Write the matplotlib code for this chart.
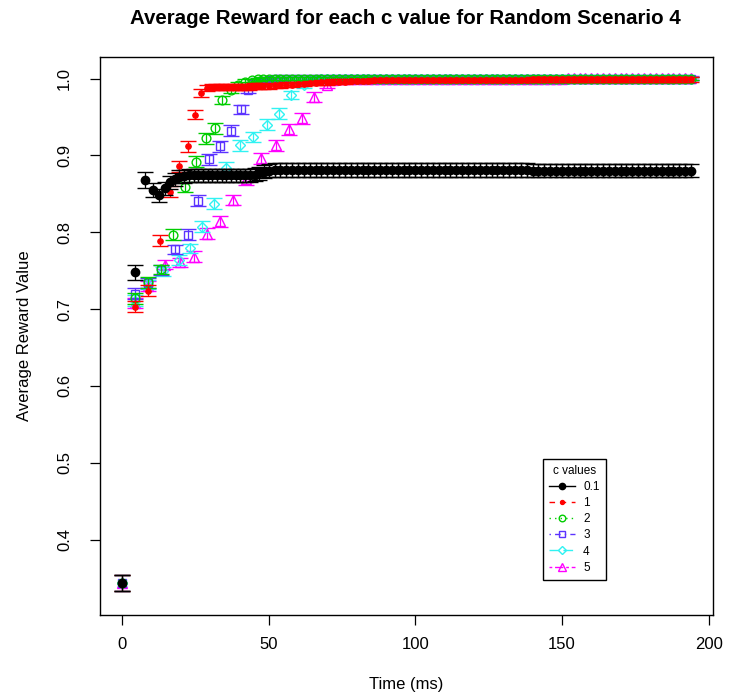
import matplotlib
matplotlib.use('Agg')
import matplotlib.pyplot as plt
from matplotlib.lines import Line2D

plt.rcParams['font.family'] = ['Liberation Sans', 'DejaVu Sans']

#%% data

c_labels = ['0.1', '1', '2', '3', '4', '5']

# shared time grid for the flat part of every curve (ms)
t_late = [50, 52, 54, 56, 58, 60, 62, 64, 66, 68,
          70, 72, 74, 76, 78, 80, 82, 84, 86, 88,
          90, 92, 94, 96, 98, 100, 102, 104, 106, 108,
          110, 112, 114, 116, 118, 120, 122, 124, 126, 128,
          130, 132, 134, 136, 138, 140, 142, 144, 146, 148,
          150, 152, 154, 156, 158, 160, 162, 164, 166, 168,
          170, 172, 174, 176, 178, 180, 182, 184, 186, 188,
          190, 192, 194]

# c = 0.1
x_01 = [0, 4.5, 7.7, 10.5, 12.7, 14.8, 16.4, 18.0, 19.6, 21.2, 22.8, 24.4, 26.0, 27.6,
        29.2, 30.8, 32.4, 34.0, 35.6, 37.2, 38.8, 40.4, 42.0, 43.6, 45.2, 46.8, 48.4]
y_01 = [0.344, 0.748, 0.868, 0.855, 0.848, 0.857, 0.865, 0.869, 0.872, 0.873, 0.874, 0.874, 0.874, 0.874,
        0.874, 0.874, 0.874, 0.874, 0.874, 0.874, 0.874, 0.874, 0.874, 0.874, 0.875, 0.877, 0.879]
e_01 = [0.0105, 0.010, 0.0105, 0.0088, 0.0088, 0.0085, 0.0085, 0.0085, 0.0085, 0.0085, 0.0085, 0.0085, 0.0085, 0.0085,
        0.0085, 0.0085, 0.0085, 0.0085, 0.0085, 0.0085, 0.0085, 0.0085, 0.0085, 0.0085, 0.0085, 0.0085, 0.0085]
late_01 = [0.880, 0.881, 0.881, 0.881, 0.881, 0.881, 0.881, 0.881, 0.881, 0.881,
           0.881, 0.881, 0.881, 0.881, 0.881, 0.881, 0.881, 0.881, 0.881, 0.881,
           0.881, 0.881, 0.881, 0.881, 0.881, 0.881, 0.881, 0.881, 0.881, 0.881,
           0.881, 0.881, 0.881, 0.881, 0.881, 0.881, 0.881, 0.881, 0.881, 0.881,
           0.881, 0.881, 0.881, 0.881, 0.881, 0.880, 0.880, 0.880, 0.880, 0.880,
           0.880, 0.880, 0.880, 0.880, 0.880, 0.880, 0.880, 0.880, 0.880, 0.880,
           0.880, 0.880, 0.880, 0.880, 0.880, 0.880, 0.880, 0.880, 0.880, 0.880,
           0.880, 0.880, 0.880]

# c = 1
x_1 = [0, 4.5, 8.7, 12.9, 16.4, 19.6, 22.4, 24.9, 27.0, 28.9, 30.6,
       32.2, 33.8, 35.4, 37.0, 38.6, 40.2, 41.8, 43.4, 45.0, 46.6, 48.2]
y_1 = [0.344, 0.703, 0.724, 0.789, 0.853, 0.886, 0.912, 0.953, 0.981, 0.988, 0.989,
       0.989, 0.989, 0.989, 0.989, 0.989, 0.989, 0.989, 0.989, 0.990, 0.990, 0.990]
e_1 = [0.0105, 0.007, 0.007, 0.007, 0.007, 0.007, 0.007, 0.006, 0.005, 0.004, 0.004,
       0.004, 0.004, 0.004, 0.004, 0.004, 0.004, 0.004, 0.004, 0.004, 0.004, 0.004]
late_1 = [0.990, 0.991, 0.991, 0.992, 0.992, 0.993, 0.993, 0.994, 0.994, 0.995,
          0.995, 0.996, 0.996, 0.996, 0.997, 0.997, 0.997, 0.997, 0.998, 0.998,
          0.998, 0.998, 0.998, 0.998, 0.998, 0.998, 0.998, 0.998, 0.998, 0.998,
          0.998, 0.998, 0.998, 0.998, 0.998, 0.998, 0.998, 0.998, 0.998, 0.998,
          0.998, 0.998, 0.998, 0.998, 0.998, 0.999, 0.999, 0.999, 0.999, 0.999,
          0.999, 0.999, 0.999, 0.999, 0.999, 0.999, 0.999, 0.999, 0.999, 0.999,
          0.999, 0.999, 0.999, 0.999, 0.999, 0.999, 0.999, 0.999, 0.999, 0.999,
          0.999, 0.999, 0.999]

# c = 2
x_2 = [0, 4.5, 8.8, 13.3, 17.5, 21.5, 25.2, 28.5, 31.7, 34.1, 37.1, 39.5, 42.0, 44.2, 46.2, 48.2]
y_2 = [0.344, 0.714, 0.735, 0.752, 0.797, 0.859, 0.892, 0.922, 0.935, 0.972, 0.985, 0.992, 0.996, 0.998, 0.999, 0.9995]
e_2 = [0.0105, 0.007, 0.007, 0.006, 0.007, 0.007, 0.007, 0.007, 0.007, 0.005, 0.004, 0.003, 0.003, 0.002, 0.002, 0.002]
late_2 = [0.9995, 1.000, 1.000, 1.000, 1.000, 1.000, 1.000, 1.000, 1.000, 1.000,
          1.000, 1.000, 1.000, 1.000, 1.000, 1.000, 1.000, 1.000, 1.000, 1.000,
          1.000, 1.000, 1.000, 1.000, 1.000, 1.000, 1.000, 1.000, 1.000, 1.000,
          1.000, 1.000, 1.000, 1.000, 1.000, 1.000, 1.000, 1.000, 1.000, 1.000,
          1.000, 1.000, 1.000, 1.000, 1.000, 1.000, 1.000, 1.000, 1.000, 1.000,
          1.000, 1.000, 1.000, 1.000, 1.000, 1.000, 1.000, 1.000, 1.000, 1.000,
          1.000, 1.000, 1.000, 1.000, 1.000, 1.000, 1.000, 1.000, 1.000, 1.000,
          0.9995, 0.9995, 0.9995]

# c = 3
x_3 = [0, 4.5, 8.8, 13.3, 18.2, 22.4, 26.0, 29.6, 33.3, 37.0, 40.5, 43.1, 45.5, 47.8]
y_3 = [0.344, 0.720, 0.734, 0.751, 0.778, 0.797, 0.841, 0.895, 0.912, 0.932, 0.960, 0.985, 0.995, 0.997]
e_3 = [0.0105, 0.007, 0.007, 0.006, 0.006, 0.007, 0.007, 0.007, 0.007, 0.007, 0.006, 0.004, 0.003, 0.002]
late_3 = [0.998, 0.999, 0.999, 0.9995, 0.9995, 1.000, 1.000, 1.000, 1.000, 1.000,
          1.000, 1.000, 1.000, 1.000, 1.000, 1.000, 1.000, 1.000, 1.000, 1.000,
          1.000, 1.000, 1.000, 1.000, 1.000, 1.000, 1.000, 1.000, 1.000, 1.000,
          1.000, 1.000, 1.000, 1.000, 1.000, 1.000, 1.000, 1.000, 1.000, 1.000,
          1.000, 1.000, 1.000, 1.000, 1.000, 1.000, 1.000, 1.000, 1.000, 1.000,
          1.000, 1.000, 1.000, 1.000, 1.000, 1.000, 1.000, 1.000, 1.000, 1.000,
          1.000, 1.000, 1.000, 1.000, 1.000, 1.000, 1.000, 1.000, 1.000, 1.000,
          1.000, 1.000, 1.000]

# c = 4
x_4 = [0, 4.5, 8.8, 14.0, 19.3, 23.3, 27.3, 31.5, 35.5, 40.4, 44.7, 49.5, 53.5, 57.6, 62.2]
y_4 = [0.344, 0.711, 0.732, 0.749, 0.764, 0.779, 0.807, 0.837, 0.884, 0.913, 0.924, 0.940, 0.954, 0.979, 0.992]
e_4 = [0.0105, 0.007, 0.006, 0.006, 0.006, 0.006, 0.007, 0.007, 0.007, 0.007, 0.007, 0.007, 0.007, 0.005, 0.004]
late_4 = [0.997, 0.998, 0.999, 0.999, 0.9995, 1.000, 1.000, 1.000, 1.000, 1.000,
          1.000, 1.000, 1.000, 1.000, 1.000, 1.000, 1.000, 1.000, 1.000, 1.000,
          1.000, 1.000, 1.000, 1.000, 1.000, 1.000, 1.000, 1.000, 1.000, 1.000,
          1.000, 1.000, 1.000, 1.000, 1.000, 1.000, 1.000, 1.000, 1.000, 1.000,
          1.000, 1.000, 1.000, 1.000, 1.000, 1.000, 1.000, 1.000, 1.000, 1.000,
          1.000, 1.000, 1.000, 1.000, 1.000, 1.000, 1.000, 1.000, 1.000, 1.000,
          1.000, 1.000, 1.000, 1.000, 1.000, 1.000]

# c = 5
x_5 = [0, 4.5, 8.8, 14.5, 19.9, 24.4, 28.9, 33.4, 38.0, 42.3, 47.3, 52.4, 56.9, 61.3, 65.4, 69.9]
y_5 = [0.344, 0.708, 0.730, 0.758, 0.761, 0.768, 0.798, 0.814, 0.842, 0.869, 0.896, 0.913, 0.934, 0.948, 0.976, 0.992]
e_5 = [0.0105, 0.007, 0.006, 0.006, 0.006, 0.007, 0.007, 0.007, 0.007, 0.007, 0.007, 0.007, 0.007, 0.007, 0.006, 0.004]
late_5 = [0.998, 0.999, 0.9995, 1.000, 1.000, 1.000, 1.000, 1.000, 1.000, 1.000,
          1.000, 1.000, 1.000, 1.000, 1.000, 1.000, 1.000, 1.000, 1.000, 1.000,
          1.000, 1.000, 1.000, 1.000, 1.000, 1.000, 1.000, 1.000, 1.000, 1.000,
          1.000, 1.000, 1.000, 1.000, 1.000, 1.000, 1.000, 1.000, 1.000, 1.000,
          1.0005, 1.0005, 1.0005, 1.0005, 1.0005, 1.0005, 1.0005, 1.0005, 1.0005, 1.0005,
          1.0005, 1.0005, 1.0005, 1.0005, 1.0005, 1.0005, 1.0005, 1.0005, 1.0005, 1.0005,
          1.0005, 1.0005]

# error half-width on the flat part
late_err = [0.0085, 0.003, 0.002, 0.002, 0.002, 0.003]

#%% styles

colors = ['#000000', '#ff0000', '#00cd00', '#5c33ff', '#30f2f2', '#ff00ff']
markers = ['o', 'o', 'o', 's', 'D', '^']
msizes = [6.0, 3.8, 6.3, 5.6, 5.6, 7.0]
filled = [True, True, False, False, False, False]
lstyles = ['-', (0, (4, 4)), (0, (1, 3)), (0, (1, 3, 4, 3)), (0, (7, 3)), (0, (2, 2, 6, 2))]

series = [
    (x_01, y_01, e_01, late_01),
    (x_1, y_1, e_1, late_1),
    (x_2, y_2, e_2, late_2),
    (x_3, y_3, e_3, late_3),
    (x_4, y_4, e_4, late_4),
    (x_5, y_5, e_5, late_5),
]

#%% plot

fig = plt.figure(figsize=(7.43, 6.99), dpi=100)
ax = fig.add_axes([100 / 743, 84 / 699, 613 / 743, 558 / 699])

for k in range(5, -1, -1):
    xs, ys, es, late = series[k]
    t = t_late[len(t_late) - len(late):]
    x_all = xs + t
    y_all = ys + late
    e_all = es + [late_err[k]] * len(late)
    ax.errorbar(x_all, y_all, yerr=e_all, fmt=markers[k], linestyle='none',
                color=colors[k], ecolor=colors[k], elinewidth=0.9, capthick=0.9,
                capsize=5.5, markersize=msizes[k],
                markerfacecolor=colors[k] if filled[k] else 'none',
                markeredgecolor=colors[k], markeredgewidth=1.0,
                zorder=10 - k)

ax.set_xlim(-7.5, 201.5)
ax.set_ylim(0.302, 1.028)
ax.set_xticks([0, 50, 100, 150, 200])
ax.set_yticks([0.4, 0.5, 0.6, 0.7, 0.8, 0.9, 1.0])
ax.set_yticklabels(['0.4', '0.5', '0.6', '0.7', '0.8', '0.9', '1.0'], rotation=90, va='center')
ax.tick_params(axis='both', labelsize=12, length=7, width=0.9, direction='out')
ax.tick_params(axis='x', pad=9)
ax.tick_params(axis='y', pad=13)
for sp in ax.spines.values():
    sp.set_linewidth(1.0)

fig.text(405 / 743, 1 - 18 / 699, 'Average Reward for each c value for Random Scenario 4',
         ha='center', va='center', fontsize=14.8, fontweight='bold')
fig.text(406 / 743, 1 - 685 / 699, 'Time (ms)', ha='center', va='center', fontsize=12)
fig.text(25 / 743, 1 - 336 / 699, 'Average Reward Value', ha='center', va='center',
         rotation=90, fontsize=12)

handles = []
for k in range(6):
    handles.append(Line2D([0], [0], color=colors[k], linestyle=lstyles[k], linewidth=1.0,
                          marker=markers[k], markersize=msizes[k] * 0.75,
                          markerfacecolor=colors[k] if filled[k] else 'none',
                          markeredgecolor=colors[k]))

leg = ax.legend(handles, c_labels, title='c values', loc='upper left',
                bbox_to_anchor=(543 / 743, 1 - 459 / 699), bbox_transform=fig.transFigure,
                fontsize=8.5, title_fontsize=8.5, frameon=True, fancybox=False,
                edgecolor='black', framealpha=1, handlelength=2.2, handletextpad=0.7,
                labelspacing=0.35, borderpad=0.5, borderaxespad=0)
leg.get_frame().set_linewidth(1.0)
leg._legend_box.align = 'center'

fig.savefig('out.png', dpi=100)
